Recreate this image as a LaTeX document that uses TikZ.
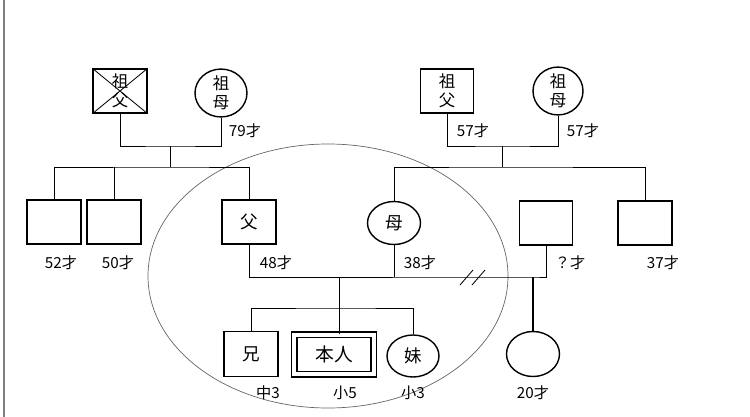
\documentclass[tikz,border=0pt]{standalone}
\usepackage{fontspec}
\setmainfont{Noto Sans CJK JP}
\usetikzlibrary{shapes.geometric,calc}
\colorlet{ringgray}{black!60}

\begin{document}
\begin{tikzpicture}[x=0.03cm,y=-0.03cm,
  male/.style={draw,line width=1.2pt,rectangle,inner sep=0pt,minimum width=1.62cm,minimum height=1.32cm,font=\fontsize{15}{16}\selectfont},
  female/.style={draw,line width=1.2pt,ellipse,inner sep=0pt,minimum width=1.56cm,minimum height=1.32cm,font=\fontsize{15}{16}\selectfont},
  elder/.style={align=center,font=\fontsize{14}{16}\selectfont},
  age/.style={inner sep=0pt,font=\fontsize{13}{15}\selectfont},
  link/.style={line width=0.7pt}]
\useasboundingbox (0,0) rectangle (750,417);
\draw[gray,line width=1.2pt] (4,0) -- (4,417);

% grandparents
\node[male,elder] (gfL) at (120,91) {祖\\父};
\draw[link] (gfL.north west) -- (gfL.south east) (gfL.north east) -- (gfL.south west);
\node[female,elder,minimum height=1.38cm] (gmL) at (221,93) {祖\\母};
\node[male,elder,minimum width=1.59cm] (gfR) at (447,91) {祖\\父};
\node[female,elder,minimum width=1.5cm] (gmR) at (558,91) {祖\\母};

% parents and their siblings
\node[male] (s52) at (54,222) {};
\node[male] (s50) at (114,222) {};
\node[male] (fa) at (249,222) {父};
\node[female,minimum width=1.59cm,minimum height=1.29cm] (mo) at (394,223) {母};
\node[male,minimum width=1.59cm] (ex) at (546,223) {};
\node[male] (s37) at (645,223) {};

% children
\node[male,minimum height=1.35cm] (ani) at (251,354) {兄};
\node[draw,double,line width=1.2pt,double distance=3.5pt,inner sep=0pt,minimum width=2.385cm,minimum height=1.185cm,font=\fontsize{16}{17}\selectfont] (me) at (334,354.5) {本人};
\node[female,minimum height=1.26cm] (imo) at (413,356) {妹};
\node[female,minimum width=1.59cm,minimum height=1.35cm] (hs) at (533,354) {};

% household
\draw[ringgray,line width=0.6pt] (328,276) ellipse [x radius=5.4cm,y radius=3.96cm];

% lines
\coordinate (pL) at (170,146);
\coordinate (sL) at (170,167);
\draw[link] (gfL.south) |- (pL) -| (gmL.south);
\draw[link] (pL) -- (sL);
\draw[link] (s52.north) |- (sL) -| (fa.north);
\draw[link] (s50.north) -- (s50.north |- sL);

\coordinate (pR) at (502,146);
\coordinate (sR) at (502,167);
\draw[link] (gfR.south) |- (pR) -| (gmR.south);
\draw[link] (pR) -- (sR);
\draw[link] (mo.north) |- (sR) -| (s37.north);

\coordinate (kc) at (339,277);
\coordinate (hc) at (533,277);
\draw[link] (fa.south) |- (hc) -| (ex.south);
\draw[link] (mo.south) -- (mo.south |- hc);
\coordinate (kb) at (339,308);
\draw[link] (kc) -- (kb);
\draw[link] (ani.north) |- (kb) -| (imo.north);
\draw[link] (kb) -- (kb |- me.north);
\draw[line width=1.2pt] (hc) -- (hs.north);
\coordinate (dv) at (472,277);
\draw[link] ($(dv)+(-12,8)$) -- ++(13,-15) ($(dv)+(0,8)$) -- ++(13,-15);

% ages
\node[age] (a79) at (245,131) {79才};
\node[age] (a57f) at (473,131) {57才};
\node[age] (a57m) at (583,131) {57才};
\node[age] (a52) at (61,263) {52才};
\node[age] (a50) at (118,263) {50才};
\node[age] (a48) at (276,263) {48才};
\node[age] (a38) at (420,263) {38才};
\node[age] (aex) at (570,263) {？才};
\node[age] (a37) at (663,263) {37才};
\node[age] (a20) at (533,393) {20才};
\node[age] (gani) at (268,393) {中3};
\node[age] (gme) at (345,393) {小5};
\node[age] (gimo) at (413,393) {小3};
\end{tikzpicture}
\end{document}
